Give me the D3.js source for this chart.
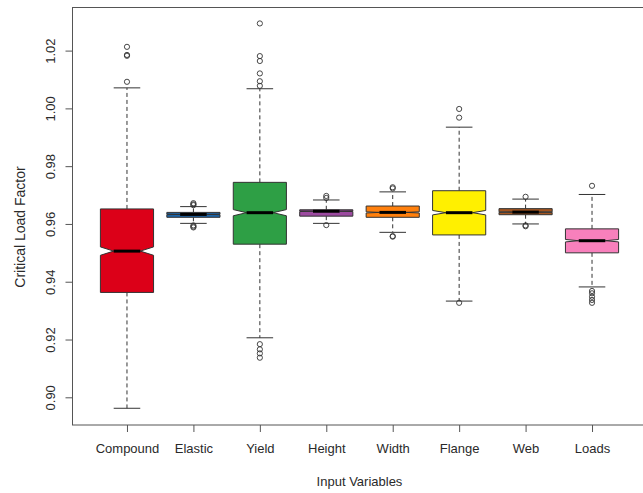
<!DOCTYPE html>
<html>
<head>
<meta charset="utf-8">
<script src="https://cdn.jsdelivr.net/npm/d3@7"></script>
<style>
  html, body { margin: 0; padding: 0; background: #fff; }
  svg { display: block; font-family: "Liberation Sans", Arial, sans-serif; }
</style>
</head>
<body>
<svg id="chart" width="643" height="493"></svg>
<script>
// Notched box plots of the critical load factor for each input variable
const categories = ["Compound", "Elastic", "Yield", "Height", "Width", "Flange", "Web", "Loads"];
const boxColors  = ["#DC0018", "#1C64A8", "#2E9F45", "#9C4AA0", "#FF800D", "#FFF000", "#A3541F", "#F880BC"];

const lowerWhisker = [0.8962, 0.9602, 0.9206, 0.9602, 0.9571, 0.9333, 0.9600, 0.9382];
const lowerHinge   = [0.9363, 0.9623, 0.9530, 0.9627, 0.9623, 0.9562, 0.9632, 0.9500];
const medians      = [0.9506, 0.9633, 0.9639, 0.9644, 0.9640, 0.9639, 0.9641, 0.9542];
const upperHinge   = [0.9652, 0.9640, 0.9744, 0.9649, 0.9662, 0.9715, 0.9653, 0.9583];
const upperWhisker = [1.0071, 0.9660, 1.0068, 0.9683, 0.9711, 0.9935, 0.9686, 0.9702];
const notchLow     = [0.94915, 0.96321, 0.96283, 0.96429, 0.96380, 0.96313, 0.96400, 0.95378];
const notchHigh    = [0.95205, 0.96339, 0.96497, 0.96451, 0.96420, 0.96467, 0.96420, 0.95462];
const outliers = [
  [1.0213, 1.0185, 1.0182, 1.0092],
  [0.9672, 0.9668, 0.9665, 0.9595, 0.9591, 0.9588],
  [1.0294, 1.0181, 1.0164, 1.0121, 1.0094, 1.0078, 0.9184, 0.9166, 0.9152, 0.9137],
  [0.9697, 0.9690, 0.9596],
  [0.9727, 0.9723, 0.9558, 0.9556],
  [0.9998, 0.9968, 0.9327],
  [0.9694, 0.9595, 0.9592],
  [0.9732, 0.9368, 0.9360, 0.9348, 0.9337, 0.9327]
];
const yTicks = [0.90, 0.92, 0.94, 0.96, 0.98, 1.00, 1.02];

const svg = d3.select("#chart");

// plot region
const plotLeft = 72.5, plotRight = 646.5, plotTop = 7.5, plotBottom = 425;
const x = d3.scaleLinear().domain([0.18, categories.length + 0.82]).range([plotLeft, plotRight]);
const y = d3.scaleLinear().domain([0.90, 1.02]).range([397.3, 50.6]);

const halfW = (x(1.4) - x(1));   // box half width (boxwex 0.8)
const notchFrac = 0.5;
const stapleHalf = halfW * 0.5;
const lineCol = "#333";

const rows = categories.map((c, i) => ({
  name: c, pos: i + 1, col: boxColors[i],
  lw: lowerWhisker[i], q1: lowerHinge[i], med: medians[i], q3: upperHinge[i], uw: upperWhisker[i],
  cLo: notchLow[i], cHi: notchHigh[i], out: outliers[i]
}));

const g = svg.append("g");

const box = g.selectAll("g.box").data(rows).join("g").attr("class", "box");

// dashed whiskers
box.append("line")
  .attr("x1", d => x(d.pos)).attr("x2", d => x(d.pos))
  .attr("y1", d => y(d.q1)).attr("y2", d => y(d.lw))
  .attr("stroke", lineCol).attr("stroke-width", 1).attr("stroke-dasharray", "4,3");
box.append("line")
  .attr("x1", d => x(d.pos)).attr("x2", d => x(d.pos))
  .attr("y1", d => y(d.q3)).attr("y2", d => y(d.uw))
  .attr("stroke", lineCol).attr("stroke-width", 1).attr("stroke-dasharray", "4,3");

// staples
box.append("line")
  .attr("x1", d => x(d.pos) - stapleHalf).attr("x2", d => x(d.pos) + stapleHalf)
  .attr("y1", d => y(d.lw)).attr("y2", d => y(d.lw))
  .attr("stroke", lineCol).attr("stroke-width", 1);
box.append("line")
  .attr("x1", d => x(d.pos) - stapleHalf).attr("x2", d => x(d.pos) + stapleHalf)
  .attr("y1", d => y(d.uw)).attr("y2", d => y(d.uw))
  .attr("stroke", lineCol).attr("stroke-width", 1);

// notched box polygon
box.append("path")
  .attr("d", d => {
    const cx = x(d.pos);
    const xs = [-1, 1, 1, notchFrac, 1, 1, -1, -1, -notchFrac, -1].map(k => cx + k * halfW);
    const ys = [d.q1, d.q1, d.cLo, d.med, d.cHi, d.q3, d.q3, d.cHi, d.med, d.cLo].map(v => y(v));
    return "M" + xs.map((v, k) => v + "," + ys[k]).join("L") + "Z";
  })
  .attr("fill", d => d.col)
  .attr("stroke", lineCol).attr("stroke-width", 1);

// median bar
box.append("line")
  .attr("x1", d => x(d.pos) - halfW * notchFrac).attr("x2", d => x(d.pos) + halfW * notchFrac)
  .attr("y1", d => y(d.med)).attr("y2", d => y(d.med))
  .attr("stroke", "#000").attr("stroke-width", 3);

// outlying points
box.selectAll("circle").data(d => d.out.map(v => ({ pos: d.pos, v })))
  .join("circle")
  .attr("cx", d => x(d.pos)).attr("cy", d => y(d.v)).attr("r", 2.6)
  .attr("fill", "none").attr("stroke", lineCol).attr("stroke-width", 0.9);

// frame
svg.append("rect")
  .attr("x", plotLeft).attr("y", plotTop).attr("width", plotRight - plotLeft).attr("height", plotBottom - plotTop)
  .attr("fill", "none").attr("stroke", "#555").attr("stroke-width", 1);

// y axis
const yAxis = svg.append("g").attr("transform", `translate(${plotLeft},0)`)
  .call(d3.axisLeft(y).tickValues(yTicks).tickFormat(d3.format(".2f")).tickSize(7));
yAxis.select(".domain").remove();
yAxis.selectAll(".tick line").attr("stroke", "#555");
yAxis.selectAll(".tick text")
  .attr("x", 0).attr("dy", 0).attr("y", 0)
  .attr("transform", "translate(-17.5,0) rotate(-90)")
  .attr("text-anchor", "middle")
  .attr("font-size", 13).attr("fill", "#2a2a2a")
  .attr("font-family", "Liberation Sans, Arial, sans-serif");

// x axis
const xAxis = svg.append("g").attr("transform", `translate(0,${plotBottom})`)
  .call(d3.axisBottom(x).tickValues(d3.range(1, categories.length + 1))
    .tickFormat(d => categories[d - 1]).tickSize(7));
xAxis.select(".domain").remove();
xAxis.selectAll(".tick line").attr("stroke", "#555");
xAxis.selectAll(".tick text")
  .attr("y", 27.5).attr("dy", 0)
  .attr("font-size", 13).attr("fill", "#2a2a2a")
  .attr("font-family", "Liberation Sans, Arial, sans-serif");

// axis titles
svg.append("text")
  .attr("x", (plotLeft + plotRight) / 2).attr("y", 485.5)
  .attr("text-anchor", "middle").attr("font-size", 13).attr("fill", "#2a2a2a")
  .text("Input Variables");
svg.append("text")
  .attr("transform", "translate(25,227) rotate(-90)")
  .attr("text-anchor", "middle").attr("font-size", 14).attr("fill", "#2a2a2a")
  .text("Critical Load Factor");
</script>
</body>
</html>
